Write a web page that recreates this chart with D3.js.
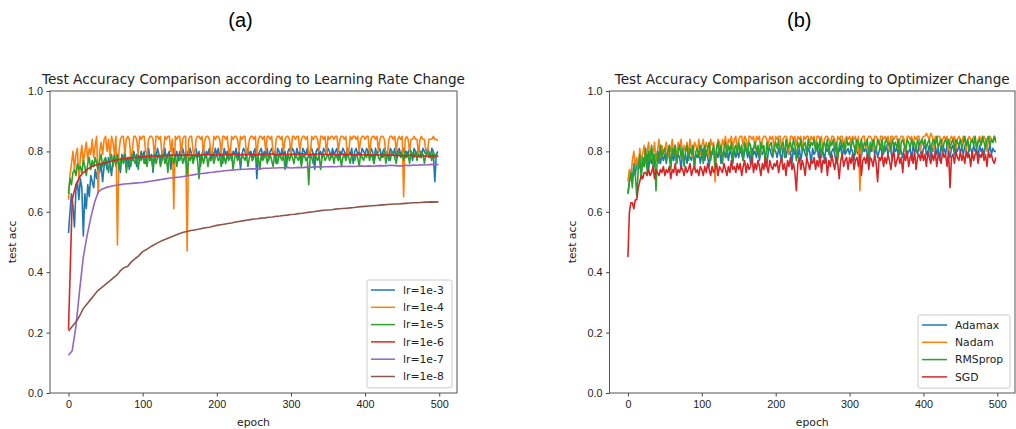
<!DOCTYPE html>
<html>
<head>
<meta charset="utf-8">
<script src="https://cdn.jsdelivr.net/npm/d3@7"></script>
<style>
  body { margin: 0; background: #fff; }
  svg { display: block; font-family: "DejaVu Sans", sans-serif; }
  .tick text { font-size: 10.8px; fill: #222; }
  .tick line { stroke: #444; }
</style>
</head>
<body>
<svg id="chart" width="1016" height="429"></svg>
<script>
// epoch grids: noisy runs every 2nd epoch, smooth runs every 5th (+ last)
var epochs2 = d3.range(0, 500, 2);
var epochs5 = d3.range(0, 500, 5).concat([499]);

var xTicks = [0, 100, 200, 300, 400, 500];
var yTicks = [0, 0.2, 0.4, 0.6, 0.8, 1.0];

// (a) learning rate runs
var lr1e3 = [
  .53,.60,.66,.62,.55,.67,.70,.64,.71,.68,.52,.66,.61,.69,.65,.72,.70,.68,.74,.71,.75,.73,.76,.70,.75,
  .77,.74,.78,.76,.72,.77,.79,.75,.78,.76,.73,.79,.77,.80,.76,.78,.74,.79,.77,.80,.78,.75,.79,.77,.80,
  .78,.80,.76,.79,.81,.77,.79,.73,.80,.78,.81,.79,.76,.80,.78,.81,.77,.79,.80,.74,.79,.81,.78,.80,.77,
  .80,.78,.81,.79,.76,.80,.78,.81,.79,.77,.80,.81,.78,.80,.75,.79,.81,.78,.80,.79,.81,.77,.80,.78,.81,
  .79,.81,.78,.80,.76,.81,.79,.80,.78,.81,.77,.80,.79,.81,.78,.80,.74,.79,.81,.80,.78,.81,.79,.80,.77,
  .80,.81,.71,.79,.80,.81,.78,.80,.79,.81,.77,.80,.81,.79,.80,.76,.81,.80,.78,.81,.79,.80,.75,.80,.81,
  .79,.81,.80,.78,.81,.79,.80,.76,.81,.80,.79,.81,.78,.80,.81,.79,.74,.80,.81,.79,.80,.78,.81,.80,.79,
  .81,.80,.78,.81,.79,.80,.81,.77,.80,.79,.81,.80,.78,.81,.80,.79,.81,.76,.80,.81,.79,.80,.78,.81,.80,
  .79,.81,.80,.78,.81,.80,.76,.81,.79,.80,.81,.78,.80,.81,.79,.80,.77,.81,.80,.79,.81,.78,.80,.81,.79,
  .80,.81,.78,.80,.79,.81,.80,.77,.81,.80,.79,.81,.80,.78,.81,.80,.79,.81,.80,.78,.81,.80,.70,.79,.80];
var lr1e4 = [
  .64,.72,.76,.80,.74,.79,.81,.70,.78,.82,.76,.80,.83,.77,.81,.79,.84,.78,.82,.85,.66,.80,.83,.79,.84,
  .85,.80,.84,.78,.85,.83,.79,.85,.49,.80,.84,.85,.85,.79,.84,.85,.84,.78,.80,.85,.85,.84,.79,.85,.84,
  .85,.85,.80,.79,.84,.85,.85,.84,.78,.85,.85,.84,.85,.79,.80,.85,.84,.85,.85,.80,.84,.61,.85,.84,.85,
  .85,.79,.84,.85,.85,.47,.84,.85,.85,.80,.78,.84,.85,.85,.84,.85,.79,.84,.85,.85,.84,.80,.79,.85,.84,
  .85,.85,.84,.79,.85,.85,.84,.85,.80,.79,.85,.84,.85,.85,.84,.80,.85,.84,.85,.85,.79,.80,.84,.85,.85,
  .84,.85,.78,.84,.85,.85,.84,.85,.80,.85,.85,.84,.85,.79,.78,.84,.85,.85,.84,.85,.80,.84,.85,.85,.84,
  .79,.85,.85,.84,.85,.85,.80,.84,.85,.85,.84,.85,.79,.78,.85,.84,.85,.85,.84,.80,.85,.85,.84,.85,.79,
  .85,.84,.85,.85,.84,.85,.85,.80,.84,.85,.85,.84,.85,.79,.80,.85,.84,.85,.85,.84,.85,.80,.84,.85,.85,
  .84,.85,.85,.79,.84,.85,.85,.84,.85,.80,.84,.85,.85,.84,.79,.78,.84,.85,.85,.84,.85,.80,.84,.85,.84,
  .85,.65,.84,.85,.84,.80,.84,.84,.85,.84,.84,.79,.84,.85,.84,.84,.80,.79,.84,.84,.84,.85,.84,.84,.835];
var lr1e5 = [
  .66,.71,.69,.73,.74,.72,.76,.74,.75,.73,.77,.75,.72,.76,.78,.74,.77,.75,.78,.76,.74,.77,.79,.75,.77,
  .78,.76,.73,.77,.79,.75,.78,.76,.79,.74,.77,.78,.76,.79,.73,.77,.78,.75,.79,.77,.76,.79,.74,.78,.77,
  .79,.76,.78,.75,.79,.77,.78,.74,.79,.76,.78,.79,.75,.77,.79,.76,.78,.73,.79,.77,.78,.76,.79,.75,.78,
  .77,.79,.76,.78,.79,.72,.78,.77,.79,.76,.78,.79,.77,.71,.78,.79,.76,.78,.79,.75,.78,.77,.79,.76,.78,
  .79,.77,.78,.75,.79,.78,.76,.79,.77,.78,.79,.74,.78,.79,.77,.78,.76,.79,.78,.77,.79,.75,.78,.79,.77,
  .78,.79,.76,.78,.74,.79,.77,.78,.79,.76,.78,.79,.77,.75,.79,.78,.76,.79,.78,.77,.79,.74,.78,.79,.77,
  .79,.78,.76,.79,.78,.77,.79,.75,.78,.79,.77,.78,.69,.79,.78,.76,.79,.78,.77,.79,.74,.78,.79,.77,.78,
  .79,.77,.78,.79,.76,.79,.78,.77,.79,.75,.78,.79,.77,.79,.78,.76,.79,.78,.77,.79,.78,.75,.79,.78,.77,
  .79,.78,.80,.77,.79,.78,.76,.79,.80,.78,.77,.79,.78,.80,.76,.79,.78,.77,.80,.79,.78,.76,.79,.80,.78,
  .79,.77,.80,.78,.79,.76,.80,.79,.78,.80,.77,.79,.78,.80,.79,.76,.79,.80,.78,.79,.77,.80,.78,.79,.79];
var lr1e6 = [.21,.64,.69,.715,.73,.74,.748,.753,.757,.76,
  .763,.766,.769,.772,.774,.776,.777,.779,.78,.781,
  .782,.783,.784,.785,.786,.785,.787,.786,.788,.787,
  .788,.787,.789,.788,.787,.789,.788,.79,.789,.788,
  .79,.789,.788,.79,.789,.791,.788,.79,.789,.791,
  .79,.788,.791,.789,.79,.792,.789,.79,.791,.789,
  .79,.791,.789,.792,.79,.789,.791,.79,.792,.79,
  .789,.791,.79,.788,.791,.789,.79,.788,.79,.789,
  .788,.79,.787,.789,.788,.786,.789,.787,.788,.786,
  .787,.785,.788,.786,.784,.787,.785,.783,.786,.785,
  .784];
var lr1e7 = [.125,.14,.22,.34,.45,.52,.58,.63,.665,.675,
  .68,.683,.686,.688,.69,.692,.693,.694,.695,.696,
  .697,.699,.701,.703,.705,.707,.709,.711,.713,.714,
  .715,.717,.719,.721,.723,.725,.727,.728,.73,.731,
  .733,.734,.736,.737,.738,.739,.74,.741,.741,.742,
  .742,.743,.743,.744,.744,.745,.745,.746,.746,.747,
  .745,.746,.747,.746,.748,.747,.748,.749,.748,.749,
  .749,.75,.749,.75,.751,.75,.751,.75,.751,.752,
  .751,.752,.751,.752,.753,.752,.753,.754,.753,.752,
  .752,.754,.753,.755,.754,.756,.755,.756,.757,.756,
  .757];
var lr1e8 = [.205,.22,.235,.255,.28,.295,.31,.325,.34,.35,
  .36,.37,.38,.39,.405,.415,.42,.435,.445,.455,
  .468,.475,.483,.49,.497,.503,.508,.513,.518,.523,
  .528,.532,.535,.538,.54,.542,.545,.547,.549,.552,
  .555,.557,.559,.561,.563,.566,.568,.57,.572,.574,
  .576,.577,.579,.58,.582,.583,.585,.586,.588,.589,
  .591,.592,.594,.595,.597,.599,.6,.602,.604,.605,
  .606,.607,.609,.61,.611,.612,.613,.614,.616,.617,
  .618,.619,.62,.621,.622,.623,.624,.625,.626,.626,
  .627,.628,.629,.63,.63,.631,.632,.632,.633,.632,
  .633];

// (b) optimizer runs
var adamax = [
  .66,.70,.73,.71,.75,.72,.77,.74,.76,.73,.78,.75,.77,.79,.74,.78,.76,.79,.75,.78,.77,.80,.76,.79,.77,
  .79,.76,.80,.78,.75,.79,.77,.80,.76,.79,.78,.74,.80,.77,.79,.76,.80,.78,.77,.80,.75,.79,.78,.80,.76,
  .79,.81,.77,.80,.78,.75,.80,.79,.81,.77,.80,.78,.81,.76,.79,.80,.78,.81,.77,.80,.79,.76,.81,.78,.80,
  .78,.81,.79,.77,.80,.81,.78,.80,.76,.81,.79,.80,.78,.81,.77,.80,.79,.81,.78,.75,.80,.81,.79,.78,.81,
  .80,.78,.81,.79,.77,.81,.80,.78,.81,.79,.80,.76,.81,.79,.80,.78,.81,.77,.80,.81,.79,.78,.81,.80,.76,
  .81,.79,.80,.82,.78,.81,.79,.80,.77,.81,.80,.82,.78,.80,.81,.79,.76,.81,.80,.82,.78,.81,.79,.80,.81,
  .79,.81,.80,.77,.82,.80,.79,.81,.78,.82,.80,.81,.79,.76,.81,.80,.82,.79,.81,.78,.80,.82,.79,.81,.80,
  .82,.79,.81,.80,.77,.82,.80,.81,.79,.82,.80,.78,.81,.82,.79,.80,.81,.77,.82,.80,.81,.79,.82,.80,.78,
  .81,.82,.79,.80,.82,.78,.81,.80,.82,.79,.81,.77,.82,.80,.81,.79,.82,.80,.78,.81,.82,.79,.81,.80,.82,
  .80,.81,.79,.82,.80,.78,.82,.81,.79,.82,.80,.81,.78,.82,.80,.81,.79,.82,.81,.80,.82,.79,.81,.80,.80];
var nadam = [
  .70,.74,.72,.77,.80,.75,.78,.74,.81,.77,.79,.82,.76,.80,.83,.78,.81,.79,.83,.77,.80,.84,.78,.82,.79,
  .81,.83,.78,.82,.80,.84,.79,.82,.77,.83,.81,.84,.78,.82,.80,.83,.79,.84,.81,.78,.83,.82,.80,.84,.79,
  .82,.84,.80,.83,.81,.78,.84,.82,.83,.70,.81,.84,.83,.79,.84,.82,.85,.80,.84,.83,.85,.81,.84,.85,.80,
  .84,.85,.85,.82,.85,.84,.80,.85,.85,.84,.85,.81,.85,.84,.85,.79,.84,.85,.85,.84,.82,.85,.84,.85,.80,
  .85,.84,.85,.85,.81,.84,.85,.85,.84,.79,.85,.85,.84,.85,.82,.85,.84,.85,.80,.85,.84,.85,.85,.83,.85,
  .84,.85,.81,.85,.85,.84,.85,.80,.84,.85,.85,.84,.82,.85,.85,.84,.79,.85,.84,.85,.85,.81,.84,.85,.84,
  .85,.83,.85,.84,.85,.80,.85,.67,.84,.85,.85,.81,.84,.85,.85,.84,.80,.85,.85,.84,.82,.85,.85,.84,.85,
  .84,.85,.80,.85,.85,.84,.85,.85,.81,.84,.85,.85,.84,.79,.85,.85,.84,.85,.82,.85,.84,.85,.85,.80,.84,
  .85,.85,.86,.85,.84,.86,.85,.80,.85,.84,.85,.85,.82,.84,.85,.84,.85,.79,.84,.85,.84,.85,.81,.84,.85,
  .84,.83,.85,.84,.80,.84,.85,.84,.83,.85,.84,.81,.84,.85,.84,.83,.85,.84,.80,.84,.85,.84,.83,.85,.84];
var rmsprop = [
  .66,.70,.73,.68,.76,.72,.65,.74,.79,.71,.78,.75,.81,.73,.80,.77,.82,.75,.79,.67,.80,.76,.82,.78,.80,
  .81,.77,.80,.82,.74,.81,.79,.82,.76,.80,.82,.78,.81,.75,.80,.82,.77,.81,.79,.82,.74,.80,.81,.78,.82,
  .80,.76,.82,.79,.81,.83,.77,.80,.82,.75,.81,.83,.79,.82,.76,.81,.83,.78,.82,.80,.83,.77,.81,.82,.79,
  .83,.80,.82,.77,.83,.81,.79,.83,.82,.76,.81,.83,.80,.82,.78,.83,.81,.82,.75,.83,.80,.82,.83,.79,.81,
  .83,.81,.84,.79,.82,.83,.78,.84,.81,.82,.83,.80,.84,.82,.77,.83,.81,.84,.80,.82,.83,.79,.84,.81,.83,
  .82,.84,.80,.83,.81,.84,.78,.82,.83,.81,.84,.79,.83,.82,.84,.80,.83,.77,.82,.84,.81,.83,.80,.84,.82,
  .83,.81,.84,.82,.79,.84,.83,.81,.84,.80,.83,.82,.84,.78,.83,.81,.84,.82,.80,.84,.83,.81,.84,.79,.83,
  .84,.82,.83,.80,.84,.82,.83,.81,.84,.79,.83,.84,.82,.80,.84,.83,.81,.84,.82,.83,.80,.84,.82,.83,.84,
  .82,.84,.81,.83,.84,.80,.83,.84,.82,.85,.81,.83,.84,.80,.83,.84,.82,.84,.81,.83,.84,.80,.84,.83,.82,
  .84,.81,.83,.85,.82,.84,.80,.83,.84,.82,.85,.81,.83,.84,.82,.85,.83,.81,.84,.85,.82,.84,.83,.85,.83];
var sgd = [
  .45,.60,.63,.63,.61,.64,.64,.68,.70,.72,.71,.73,.73,.72,.74,.72,.73,.75,.71,.74,.73,.72,.74,.73,.75,
  .72,.74,.73,.75,.71,.74,.73,.76,.72,.74,.73,.75,.74,.72,.75,.73,.74,.76,.72,.74,.75,.73,.74,.72,.75,
  .74,.72,.75,.73,.76,.74,.72,.75,.73,.74,.76,.72,.75,.74,.73,.76,.74,.72,.75,.73,.77,.74,.75,.73,.76,
  .74,.76,.72,.75,.77,.73,.76,.74,.75,.78,.73,.76,.74,.77,.75,.72,.76,.74,.78,.75,.73,.77,.75,.74,.76,
  .75,.77,.73,.76,.78,.74,.76,.72,.77,.75,.78,.74,.76,.73,.67,.76,.78,.74,.77,.75,.72,.78,.76,.74,.77,
  .76,.78,.74,.77,.75,.79,.73,.77,.76,.78,.72,.77,.75,.79,.76,.74,.78,.76,.71,.77,.79,.75,.77,.78,.74,
  .78,.76,.79,.74,.77,.78,.75,.79,.72,.77,.78,.76,.79,.74,.78,.77,.75,.79,.76,.70,.78,.77,.79,.75,.78,
  .76,.79,.77,.74,.78,.80,.75,.77,.79,.76,.78,.73,.79,.77,.80,.75,.78,.79,.76,.80,.74,.78,.79,.77,.80,
  .77,.79,.75,.80,.78,.76,.79,.77,.80,.75,.79,.78,.76,.80,.78,.79,.75,.80,.68,.78,.79,.76,.80,.78,.77,
  .80,.77,.79,.76,.80,.78,.79,.75,.80,.77,.79,.80,.76,.79,.78,.80,.77,.79,.75,.80,.78,.79,.77,.76,.78];

var colors = ["#1f77b4", "#ff7f0e", "#2ca02c", "#d62728", "#9467bd", "#8c564b"];

var panelA = {
  title: "Test Accuracy Comparison according to Learning Rate Change",
  tag: "(a)",
  left: 50, right: 457,
  names: ["lr=1e-3", "lr=1e-4", "lr=1e-5", "lr=1e-6", "lr=1e-7", "lr=1e-8"],
  series: [lr1e3, lr1e4, lr1e5, lr1e6, lr1e7, lr1e8],
  grids: [epochs2, epochs2, epochs2, epochs5, epochs5, epochs5],
  legend: { x: 367, y: 280, w: 85, line: 24 }
};
var panelB = {
  title: "Test Accuracy Comparison according to Optimizer Change",
  tag: "(b)",
  left: 609.5, right: 1015,
  names: ["Adamax", "Nadam", "RMSprop", "SGD"],
  series: [adamax, nadam, rmsprop, sgd],
  grids: [epochs2, epochs2, epochs2, epochs2],
  legend: { x: 918, y: 315, w: 92, line: 25 }
};

var svg = d3.select("#chart");
var top_y = 91, bottom_y = 393;

function drawPanel(p) {
  var g = svg.append("g");
  var x = d3.scaleLinear().domain([-24.95, 523.95]).range([p.left, p.right]);
  var y = d3.scaleLinear().domain([0, 1]).range([bottom_y, top_y]);
  var cx = (p.left + p.right) / 2;

  // figure tag
  svg.append("text")
    .attr("x", cx - 13).attr("y", 27)
    .attr("text-anchor", "middle")
    .style("font-family", "'Liberation Sans Narrow', 'Liberation Sans', sans-serif")
    .style("font-size", "20px")
    .text(p.tag);

  // title
  g.append("text")
    .attr("x", cx).attr("y", 84)
    .attr("text-anchor", "middle")
    .style("font-size", "13.6px")
    .attr("fill", "#222")
    .text(p.title);

  // lines
  p.series.forEach(function (s, i) {
    var grid = p.grids[i];
    var line = d3.line()
      .x(function (d, j) { return x(grid[j]); })
      .y(function (d) { return y(d); });
    g.append("path")
      .datum(s)
      .attr("d", line)
      .attr("fill", "none")
      .attr("stroke", colors[i])
      .attr("stroke-width", 1.6)
      .attr("stroke-linejoin", "round");
  });

  // axes
  g.append("g")
    .attr("transform", "translate(0," + bottom_y + ")")
    .call(d3.axisBottom(x).tickValues(xTicks).tickSize(3.5).tickPadding(3.5).tickSizeOuter(0))
    .call(function (a) { a.select(".domain").remove(); });
  g.append("g")
    .attr("transform", "translate(" + p.left + ",0)")
    .call(d3.axisLeft(y).tickValues(yTicks).tickFormat(d3.format(".1f")).tickSize(3.5).tickPadding(3.5).tickSizeOuter(0))
    .call(function (a) { a.select(".domain").remove(); });

  // frame
  g.append("rect")
    .attr("x", p.left).attr("y", top_y)
    .attr("width", p.right - p.left).attr("height", bottom_y - top_y)
    .attr("fill", "none")
    .attr("stroke", "#555")
    .attr("stroke-width", 1);

  // axis labels
  g.append("text")
    .attr("x", cx).attr("y", 426)
    .attr("text-anchor", "middle")
    .style("font-size", "10.8px")
    .attr("fill", "#222")
    .text("epoch");
  g.append("text")
    .attr("transform", "translate(" + (p.left - 34) + "," + ((top_y + bottom_y) / 2) + ") rotate(-90)")
    .attr("text-anchor", "middle")
    .style("font-size", "10.8px")
    .attr("fill", "#222")
    .text("test acc");

  // legend
  var L = p.legend, step = 17.3;
  g.append("rect")
    .attr("x", L.x).attr("y", L.y)
    .attr("width", L.w).attr("height", p.names.length * step + 4)
    .attr("rx", 2)
    .attr("fill", "#fff")
    .attr("fill-opacity", 0.85)
    .attr("stroke", "#ccc");
  p.names.forEach(function (n, i) {
    var yy = L.y + 10 + i * step;
    g.append("line")
      .attr("x1", L.x + 4).attr("x2", L.x + 4 + L.line)
      .attr("y1", yy).attr("y2", yy)
      .attr("stroke", colors[i]).attr("stroke-width", 1.5);
    g.append("text")
      .attr("x", L.x + 12 + L.line).attr("y", yy)
      .attr("dy", "0.35em")
      .style("font-size", "10.8px")
      .attr("fill", "#222")
      .text(n);
  });
}

drawPanel(panelA);
drawPanel(panelB);
</script>
</body>
</html>
